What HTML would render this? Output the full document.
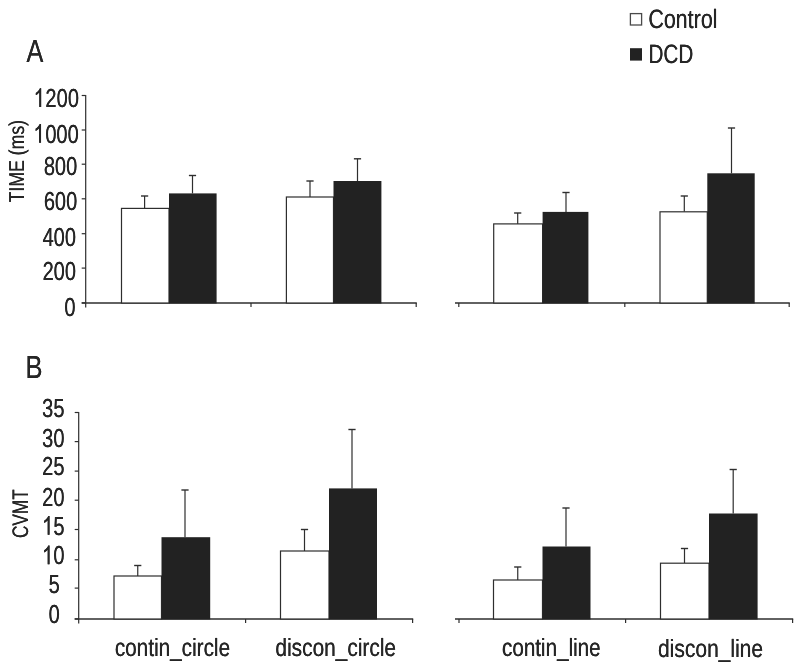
<!DOCTYPE html>
<html><head><meta charset="utf-8"><title>Figure</title>
<style>
html,body{margin:0;padding:0;background:#ffffff;}
body{width:800px;height:668px;overflow:hidden;}
svg{display:block;will-change:transform;}
svg text{font-family:"Liberation Sans",sans-serif;text-rendering:geometricPrecision;}
</style></head><body>
<svg width="800" height="668" viewBox="0 0 800 668">
<rect x="0" y="0" width="800" height="668" fill="#ffffff"/>
<line x1="85.7" y1="95.1" x2="85.7" y2="307.4" stroke="#2e2e2e" stroke-width="1.2"/>
<line x1="81.7" y1="95.5" x2="85.7" y2="95.5" stroke="#2e2e2e" stroke-width="1.2"/>
<g transform="translate(78.9 106.9) scale(0.77 1)" font-size="26" text-anchor="end" fill="#262626"><text x="-0.169">200</text><text x="0.169">200</text></g>
<path transform="translate(33.53 106.9) scale(0.009775 -0.012695)" d="M763 0H583V1147Q518 1085 412.5 1023T223 930V1104Q374 1175 487 1276T647 1472H763Z" fill="#262626"/>
<path transform="translate(33.79 106.9) scale(0.009775 -0.012695)" d="M763 0H583V1147Q518 1085 412.5 1023T223 930V1104Q374 1175 487 1276T647 1472H763Z" fill="#262626"/>
<line x1="81.7" y1="130.0" x2="85.7" y2="130.0" stroke="#2e2e2e" stroke-width="1.2"/>
<g transform="translate(78.7 142.77) scale(0.77 1)" font-size="26" text-anchor="end" fill="#262626"><text x="-0.169">000</text><text x="0.169">000</text></g>
<path transform="translate(33.33 142.77) scale(0.009775 -0.012695)" d="M763 0H583V1147Q518 1085 412.5 1023T223 930V1104Q374 1175 487 1276T647 1472H763Z" fill="#262626"/>
<path transform="translate(33.59 142.77) scale(0.009775 -0.012695)" d="M763 0H583V1147Q518 1085 412.5 1023T223 930V1104Q374 1175 487 1276T647 1472H763Z" fill="#262626"/>
<line x1="81.7" y1="164.2" x2="85.7" y2="164.2" stroke="#2e2e2e" stroke-width="1.2"/>
<g transform="translate(77.2 174.73) scale(0.77 1)" font-size="26" text-anchor="end" fill="#262626"><text x="-0.169">800</text><text x="0.169">800</text></g>
<line x1="81.7" y1="198.8" x2="85.7" y2="198.8" stroke="#2e2e2e" stroke-width="1.2"/>
<g transform="translate(77.2 209.9) scale(0.77 1)" font-size="26" text-anchor="end" fill="#262626"><text x="-0.169">600</text><text x="0.169">600</text></g>
<line x1="81.7" y1="233.7" x2="85.7" y2="233.7" stroke="#2e2e2e" stroke-width="1.2"/>
<g transform="translate(76.0 245.67) scale(0.77 1)" font-size="26" text-anchor="end" fill="#262626"><text x="-0.169">400</text><text x="0.169">400</text></g>
<line x1="81.7" y1="268.1" x2="85.7" y2="268.1" stroke="#2e2e2e" stroke-width="1.2"/>
<g transform="translate(76.0 280.23) scale(0.77 1)" font-size="26" text-anchor="end" fill="#262626"><text x="-0.169">200</text><text x="0.169">200</text></g>
<line x1="81.7" y1="302.9" x2="85.7" y2="302.9" stroke="#2e2e2e" stroke-width="1.2"/>
<g transform="translate(75.5 315.5) scale(0.77 1)" font-size="26" text-anchor="end" fill="#262626"><text x="-0.169">0</text><text x="0.169">0</text></g>
<line x1="81.7" y1="302.9" x2="416.8" y2="302.9" stroke="#2e2e2e" stroke-width="1.45"/>
<line x1="455" y1="302.9" x2="789.8" y2="302.9" stroke="#2e2e2e" stroke-width="1.45"/>
<line x1="251" y1="303" x2="251" y2="307" stroke="#2e2e2e" stroke-width="1.2"/>
<line x1="416.2" y1="303" x2="416.2" y2="307" stroke="#2e2e2e" stroke-width="1.2"/>
<line x1="458.8" y1="303" x2="458.8" y2="307" stroke="#2e2e2e" stroke-width="1.2"/>
<line x1="624.8" y1="303" x2="624.8" y2="307" stroke="#2e2e2e" stroke-width="1.2"/>
<line x1="789.2" y1="303" x2="789.2" y2="307" stroke="#2e2e2e" stroke-width="1.2"/>
<line x1="144.6" y1="196" x2="144.6" y2="208.4" stroke="#2e2e2e" stroke-width="1.2"/>
<line x1="141.0" y1="196" x2="148.2" y2="196" stroke="#2e2e2e" stroke-width="1.4"/>
<line x1="192.5" y1="175.5" x2="192.5" y2="193.4" stroke="#2e2e2e" stroke-width="1.2"/>
<line x1="188.9" y1="175.5" x2="196.1" y2="175.5" stroke="#2e2e2e" stroke-width="1.4"/>
<rect x="121.5" y="208.4" width="47.5" height="94.6" fill="#ffffff" stroke="#2e2e2e" stroke-width="1.2"/>
<rect x="169" y="193.4" width="47.6" height="110.1" fill="#222222"/>
<line x1="310" y1="181" x2="310" y2="197" stroke="#2e2e2e" stroke-width="1.2"/>
<line x1="306.4" y1="181" x2="313.6" y2="181" stroke="#2e2e2e" stroke-width="1.4"/>
<line x1="357.5" y1="158.8" x2="357.5" y2="181" stroke="#2e2e2e" stroke-width="1.2"/>
<line x1="353.9" y1="158.8" x2="361.1" y2="158.8" stroke="#2e2e2e" stroke-width="1.4"/>
<rect x="286.4" y="197" width="47.1" height="106" fill="#ffffff" stroke="#2e2e2e" stroke-width="1.2"/>
<rect x="333.5" y="181" width="47.9" height="122.5" fill="#222222"/>
<line x1="517.7" y1="213" x2="517.7" y2="223.9" stroke="#2e2e2e" stroke-width="1.2"/>
<line x1="514.1" y1="213" x2="521.3000000000001" y2="213" stroke="#2e2e2e" stroke-width="1.4"/>
<line x1="566" y1="192.5" x2="566" y2="211.9" stroke="#2e2e2e" stroke-width="1.2"/>
<line x1="562.4" y1="192.5" x2="569.6" y2="192.5" stroke="#2e2e2e" stroke-width="1.4"/>
<rect x="493.7" y="223.9" width="48.9" height="79.1" fill="#ffffff" stroke="#2e2e2e" stroke-width="1.2"/>
<rect x="542.6" y="211.9" width="45.8" height="91.6" fill="#222222"/>
<line x1="684.3" y1="196" x2="684.3" y2="211.8" stroke="#2e2e2e" stroke-width="1.2"/>
<line x1="680.6999999999999" y1="196" x2="687.9" y2="196" stroke="#2e2e2e" stroke-width="1.4"/>
<line x1="731.5" y1="128" x2="731.5" y2="173.3" stroke="#2e2e2e" stroke-width="1.2"/>
<line x1="727.9" y1="128" x2="735.1" y2="128" stroke="#2e2e2e" stroke-width="1.4"/>
<rect x="660" y="211.8" width="47.3" height="91.2" fill="#ffffff" stroke="#2e2e2e" stroke-width="1.2"/>
<rect x="707.3" y="173.3" width="47.4" height="130.2" fill="#222222"/>
<line x1="78.7" y1="412.0" x2="78.7" y2="623.4" stroke="#2e2e2e" stroke-width="1.2"/>
<line x1="74.7" y1="412.5" x2="78.7" y2="412.5" stroke="#2e2e2e" stroke-width="1.2"/>
<g transform="translate(64.5 416.5) scale(0.77 1)" font-size="26" text-anchor="end" fill="#262626"><text x="-0.169">35</text><text x="0.169">35</text></g>
<line x1="74.7" y1="441.6" x2="78.7" y2="441.6" stroke="#2e2e2e" stroke-width="1.2"/>
<g transform="translate(64.5 447.3) scale(0.77 1)" font-size="26" text-anchor="end" fill="#262626"><text x="-0.169">30</text><text x="0.169">30</text></g>
<line x1="74.7" y1="471.1" x2="78.7" y2="471.1" stroke="#2e2e2e" stroke-width="1.2"/>
<g transform="translate(64.5 474.5) scale(0.77 1)" font-size="26" text-anchor="end" fill="#262626"><text x="-0.169">25</text><text x="0.169">25</text></g>
<line x1="74.7" y1="500.2" x2="78.7" y2="500.2" stroke="#2e2e2e" stroke-width="1.2"/>
<g transform="translate(64.5 505.7) scale(0.77 1)" font-size="26" text-anchor="end" fill="#262626"><text x="-0.169">20</text><text x="0.169">20</text></g>
<line x1="74.7" y1="529.5" x2="78.7" y2="529.5" stroke="#2e2e2e" stroke-width="1.2"/>
<g transform="translate(64.5 534.7) scale(0.77 1)" font-size="26" text-anchor="end" fill="#262626"><text x="-0.169">5</text><text x="0.169">5</text></g>
<path transform="translate(41.9 534.7) scale(0.009775 -0.012695)" d="M763 0H583V1147Q518 1085 412.5 1023T223 930V1104Q374 1175 487 1276T647 1472H763Z" fill="#262626"/>
<path transform="translate(42.16 534.7) scale(0.009775 -0.012695)" d="M763 0H583V1147Q518 1085 412.5 1023T223 930V1104Q374 1175 487 1276T647 1472H763Z" fill="#262626"/>
<line x1="74.7" y1="559.8" x2="78.7" y2="559.8" stroke="#2e2e2e" stroke-width="1.2"/>
<g transform="translate(64.5 564.3) scale(0.77 1)" font-size="26" text-anchor="end" fill="#262626"><text x="-0.169">0</text><text x="0.169">0</text></g>
<path transform="translate(41.9 564.3) scale(0.009775 -0.012695)" d="M763 0H583V1147Q518 1085 412.5 1023T223 930V1104Q374 1175 487 1276T647 1472H763Z" fill="#262626"/>
<path transform="translate(42.16 564.3) scale(0.009775 -0.012695)" d="M763 0H583V1147Q518 1085 412.5 1023T223 930V1104Q374 1175 487 1276T647 1472H763Z" fill="#262626"/>
<line x1="74.7" y1="588.1" x2="78.7" y2="588.1" stroke="#2e2e2e" stroke-width="1.2"/>
<g transform="translate(59.8 593.0) scale(0.77 1)" font-size="26" text-anchor="end" fill="#262626"><text x="-0.169">5</text><text x="0.169">5</text></g>
<line x1="74.7" y1="618.9" x2="78.7" y2="618.9" stroke="#2e2e2e" stroke-width="1.2"/>
<g transform="translate(59.8 622.9) scale(0.77 1)" font-size="26" text-anchor="end" fill="#262626"><text x="-0.169">0</text><text x="0.169">0</text></g>
<line x1="74.7" y1="618.9" x2="413.2" y2="618.9" stroke="#2e2e2e" stroke-width="1.45"/>
<line x1="455" y1="618.9" x2="793.2" y2="618.9" stroke="#2e2e2e" stroke-width="1.45"/>
<line x1="245.6" y1="619" x2="245.6" y2="623" stroke="#2e2e2e" stroke-width="1.2"/>
<line x1="412.6" y1="619" x2="412.6" y2="623" stroke="#2e2e2e" stroke-width="1.2"/>
<line x1="459" y1="619" x2="459" y2="623" stroke="#2e2e2e" stroke-width="1.2"/>
<line x1="625.6" y1="619" x2="625.6" y2="623" stroke="#2e2e2e" stroke-width="1.2"/>
<line x1="792.6" y1="619" x2="792.6" y2="623" stroke="#2e2e2e" stroke-width="1.2"/>
<line x1="137.75" y1="565.5" x2="137.75" y2="576" stroke="#2e2e2e" stroke-width="1.2"/>
<line x1="134.15" y1="565.5" x2="141.35" y2="565.5" stroke="#2e2e2e" stroke-width="1.4"/>
<line x1="185" y1="490" x2="185" y2="537.2" stroke="#2e2e2e" stroke-width="1.2"/>
<line x1="181.4" y1="490" x2="188.6" y2="490" stroke="#2e2e2e" stroke-width="1.4"/>
<rect x="114" y="576" width="47.5" height="43" fill="#ffffff" stroke="#2e2e2e" stroke-width="1.2"/>
<rect x="161.5" y="537.2" width="48.7" height="82.3" fill="#222222"/>
<line x1="304.5" y1="529.5" x2="304.5" y2="551" stroke="#2e2e2e" stroke-width="1.2"/>
<line x1="300.9" y1="529.5" x2="308.1" y2="529.5" stroke="#2e2e2e" stroke-width="1.4"/>
<line x1="352" y1="429.5" x2="352" y2="488.4" stroke="#2e2e2e" stroke-width="1.2"/>
<line x1="348.4" y1="429.5" x2="355.6" y2="429.5" stroke="#2e2e2e" stroke-width="1.4"/>
<rect x="280.5" y="551" width="48.5" height="68" fill="#ffffff" stroke="#2e2e2e" stroke-width="1.2"/>
<rect x="329" y="488.4" width="48" height="131.1" fill="#222222"/>
<line x1="517.75" y1="567" x2="517.75" y2="580" stroke="#2e2e2e" stroke-width="1.2"/>
<line x1="514.15" y1="567" x2="521.35" y2="567" stroke="#2e2e2e" stroke-width="1.4"/>
<line x1="566" y1="508" x2="566" y2="546.5" stroke="#2e2e2e" stroke-width="1.2"/>
<line x1="562.4" y1="508" x2="569.6" y2="508" stroke="#2e2e2e" stroke-width="1.4"/>
<rect x="493.5" y="580" width="49.0" height="39" fill="#ffffff" stroke="#2e2e2e" stroke-width="1.2"/>
<rect x="542.5" y="546.5" width="48.0" height="73.0" fill="#222222"/>
<line x1="684.5" y1="548.5" x2="684.5" y2="563.2" stroke="#2e2e2e" stroke-width="1.2"/>
<line x1="680.9" y1="548.5" x2="688.1" y2="548.5" stroke="#2e2e2e" stroke-width="1.4"/>
<line x1="733.2" y1="469.5" x2="733.2" y2="513.5" stroke="#2e2e2e" stroke-width="1.2"/>
<line x1="729.6" y1="469.5" x2="736.8000000000001" y2="469.5" stroke="#2e2e2e" stroke-width="1.4"/>
<rect x="660.5" y="563.2" width="48.5" height="55.8" fill="#ffffff" stroke="#2e2e2e" stroke-width="1.2"/>
<rect x="709" y="513.5" width="48.6" height="106.0" fill="#222222"/>
<g transform="translate(26.5 62) scale(0.79 1)" font-size="32" text-anchor="start" fill="#262626"><text x="-0.0">A</text><text x="0.0">A</text></g>
<g transform="translate(25.6 377.9) scale(0.8 1)" font-size="32" text-anchor="start" fill="#262626"><text x="-0.0">B</text><text x="0.0">B</text></g>
<rect x="630.4" y="13.6" width="11.2" height="11.4" fill="#fff" stroke="#4a4a4a" stroke-width="1.3"/>
<rect x="630" y="48.2" width="12" height="12.4" fill="#222222"/>
<g transform="translate(648.3 27.8) scale(0.81 1)" font-size="26.5" text-anchor="start" fill="#262626"><text x="-0.16">Control</text><text x="0.16">Control</text></g>
<g transform="translate(648.5 63.2) scale(0.78 1)" font-size="26.5" text-anchor="start" fill="#262626"><text x="-0.167">DCD</text><text x="0.167">DCD</text></g>
<g transform="translate(24 202.3) rotate(-90) scale(0.82 1)" font-size="21.5" text-anchor="start" fill="#262626"><text x="-0.159">TIME (ms)</text><text x="0.159">TIME (ms)</text></g>
<g transform="translate(28 538) rotate(-90) scale(0.765 1)" font-size="22.5" text-anchor="start" fill="#262626"><text x="-0.17">CVMT</text><text x="0.17">CVMT</text></g>
<g transform="translate(114.8 656.1) scale(0.83 1)" font-size="25" text-anchor="start" fill="#262626"><text x="-0.157">contin_circle</text><text x="0.157">contin_circle</text></g>
<g transform="translate(275.4 656.1) scale(0.835 1)" font-size="25" text-anchor="start" fill="#262626"><text x="-0.156">discon_circle</text><text x="0.156">discon_circle</text></g>
<g transform="translate(502 656.4) scale(0.825 1)" font-size="25" text-anchor="start" fill="#262626"><text x="-0.158">contin_line</text><text x="0.158">contin_line</text></g>
<g transform="translate(658 656.7) scale(0.84 1)" font-size="25" text-anchor="start" fill="#262626"><text x="-0.155">discon_line</text><text x="0.155">discon_line</text></g>
</svg>
</body></html>
